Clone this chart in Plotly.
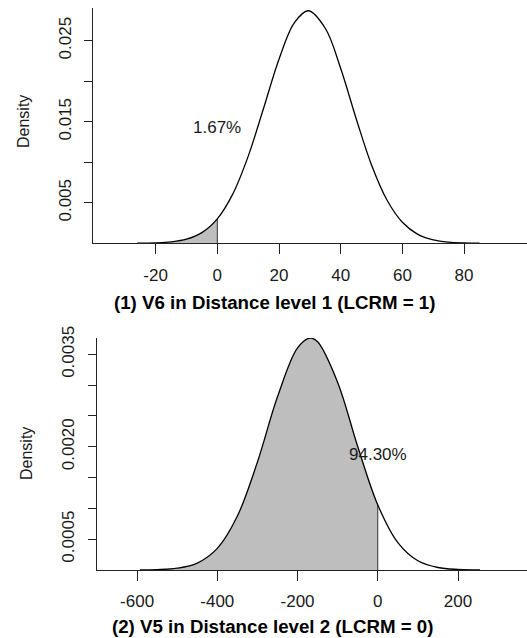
import plotly.graph_objects as go

# ---- data ----
# Panel 1: V6 in Distance level 1 (LCRM = 1)
x1 = [-26, -20, -15, -10, -5, 0, 5, 10, 15, 20, 25, 29.5, 35, 40, 45, 50, 55, 60, 65, 70, 75, 80, 85]
d1 = [0.00001, 0.0000506, 0.000171, 0.000506, 0.00132, 0.00302, 0.00607, 0.01073, 0.01666,
      0.02272, 0.02723, 0.0287, 0.02654, 0.02158, 0.01541, 0.00967, 0.00534, 0.00259, 0.00110,
      0.000412, 0.000135, 0.0000391, 0.00001]
label1 = "1.67%"
title1 = "(1) V6 in Distance level 1 (LCRM = 1)"
xticks1 = [-20, 0, 20, 40, 60, 80]
xticktext1 = ["-20", "0", "20", "40", "60", "80"]
yticks1 = [0.005, 0.010, 0.015, 0.020, 0.025]
yticktext1 = ["0.005", "", "0.015", "", "0.025"]

# Panel 2: V5 in Distance level 2 (LCRM = 0)
x2 = [-593, -550, -500, -450, -400, -350, -300, -250, -200, -169, -150, -100, -50, 0, 50, 100, 150, 200, 255]
d2 = [0.0000013, 0.0000059, 0.0000287, 0.0001121, 0.0003504, 0.000876, 0.001754, 0.002811,
      0.003606, 0.003764, 0.003704, 0.003045, 0.002004, 0.001056, 0.000445, 0.0001504,
      0.0000407, 0.0000088, 0.0000013]
label2 = "94.30%"
title2 = "(2) V5 in Distance level 2 (LCRM = 0)"
xticks2 = [-600, -400, -200, 0, 200]
xticktext2 = ["-600", "-400", "-200", "0", "200"]
yticks2 = [0.0005, 0.0010, 0.0015, 0.0020, 0.0025, 0.0030, 0.0035]
yticktext2 = ["0.0005", "", "", "0.0020", "", "", "0.0035"]

cut = 0  # shading boundary

W, H = 527, 638
FONT = "Liberation Sans, Arial, sans-serif"
TXT = "#1a1a1a"
GREY = "#BEBEBE"

fig = go.Figure()


def add_panel(fig, xs, ds, xa, ya):
    xs_sh = [x for x in xs if x <= cut]
    ds_sh = [d for x, d in zip(xs, ds) if x <= cut]
    fig.add_trace(go.Scatter(x=xs_sh, y=ds_sh, mode="lines", fill="tozeroy",
                             fillcolor=GREY, line=dict(width=0, shape="spline"),
                             xaxis=xa, yaxis=ya, hoverinfo="skip", showlegend=False))
    fig.add_trace(go.Scatter(x=[cut, cut], y=[0, ds_sh[-1]], mode="lines",
                             line=dict(color="#333333", width=1),
                             xaxis=xa, yaxis=ya, showlegend=False))
    fig.add_trace(go.Scatter(x=xs, y=ds, mode="lines",
                             line=dict(color="black", width=1.3, shape="spline"),
                             xaxis=xa, yaxis=ya, showlegend=False))


add_panel(fig, x1, d1, "x", "y")
add_panel(fig, x2, d2, "x2", "y2")

axfont = dict(family=FONT, size=17, color=TXT)
common_x = dict(showgrid=False, zeroline=False, showline=True, linecolor="#222222",
                linewidth=1, ticks="outside", tickcolor="#222222", tickwidth=1,
                tickfont=axfont, ticklen=10, automargin=False, ticklabelstandoff=6)
common_y = dict(showgrid=False, zeroline=False, showline=True, linecolor="#222222",
                linewidth=1, ticks="outside", tickcolor="#222222", tickwidth=1,
                tickfont=axfont, ticklen=8, tickangle=-90, automargin=False,
                ticklabelstandoff=7)

fig.update_layout(
    width=W, height=H,
    margin=dict(l=0, r=0, t=0, b=0),
    paper_bgcolor="white", plot_bgcolor="white",
    font=dict(family=FONT, color=TXT),
    xaxis=dict(domain=[93.3 / W, 1], range=[-40.2, 100.4], anchor="y",
               tickvals=xticks1, ticktext=xticktext1, **common_x),
    yaxis=dict(domain=[1 - 243.3 / H, 1 - 8.3 / H], range=[0, 0.0290], anchor="x",
               tickvals=yticks1, ticktext=yticktext1, **common_y),
    xaxis2=dict(domain=[96.7 / W, 1], range=[-700.7, 372], anchor="y2",
                tickvals=xticks2, ticktext=xticktext2, **common_x),
    yaxis2=dict(domain=[1 - 570 / H, 1 - 338 / H], range=[0, 0.003766], anchor="x2",
                tickvals=yticks2, ticktext=yticktext2, **common_y),
)

C = dict(xanchor="center", yanchor="middle", showarrow=False)
ann = []
ann.append(dict(x=cut, y=max(d1) / 2, xref="x", yref="y", text=label1,
                font=dict(family=FONT, size=17, color=TXT), **C))
ann.append(dict(x=cut, y=max(d2) / 2, xref="x2", yref="y2", text=label2,
                font=dict(family=FONT, size=17, color=TXT), **C))
ann.append(dict(x=274.5 / W, y=1 - 302 / H, xref="paper", yref="paper", text="<b>" + title1 + "</b>",
                font=dict(family=FONT, size=18.7, color="black"), **C))
ann.append(dict(x=272.5 / W, y=1 - 626 / H, xref="paper", yref="paper", text="<b>" + title2 + "</b>",
                font=dict(family=FONT, size=18.7, color="black"), **C))
ann.append(dict(x=23 / W, y=1 - 122 / H, xref="paper", yref="paper", text="Density",
                textangle=-90, font=dict(family=FONT, size=16, color=TXT), **C))
ann.append(dict(x=26 / W, y=1 - 454 / H, xref="paper", yref="paper", text="Density",
                textangle=-90, font=dict(family=FONT, size=16, color=TXT), **C))
fig.update_layout(annotations=ann)

fig.write_html("out.html")
